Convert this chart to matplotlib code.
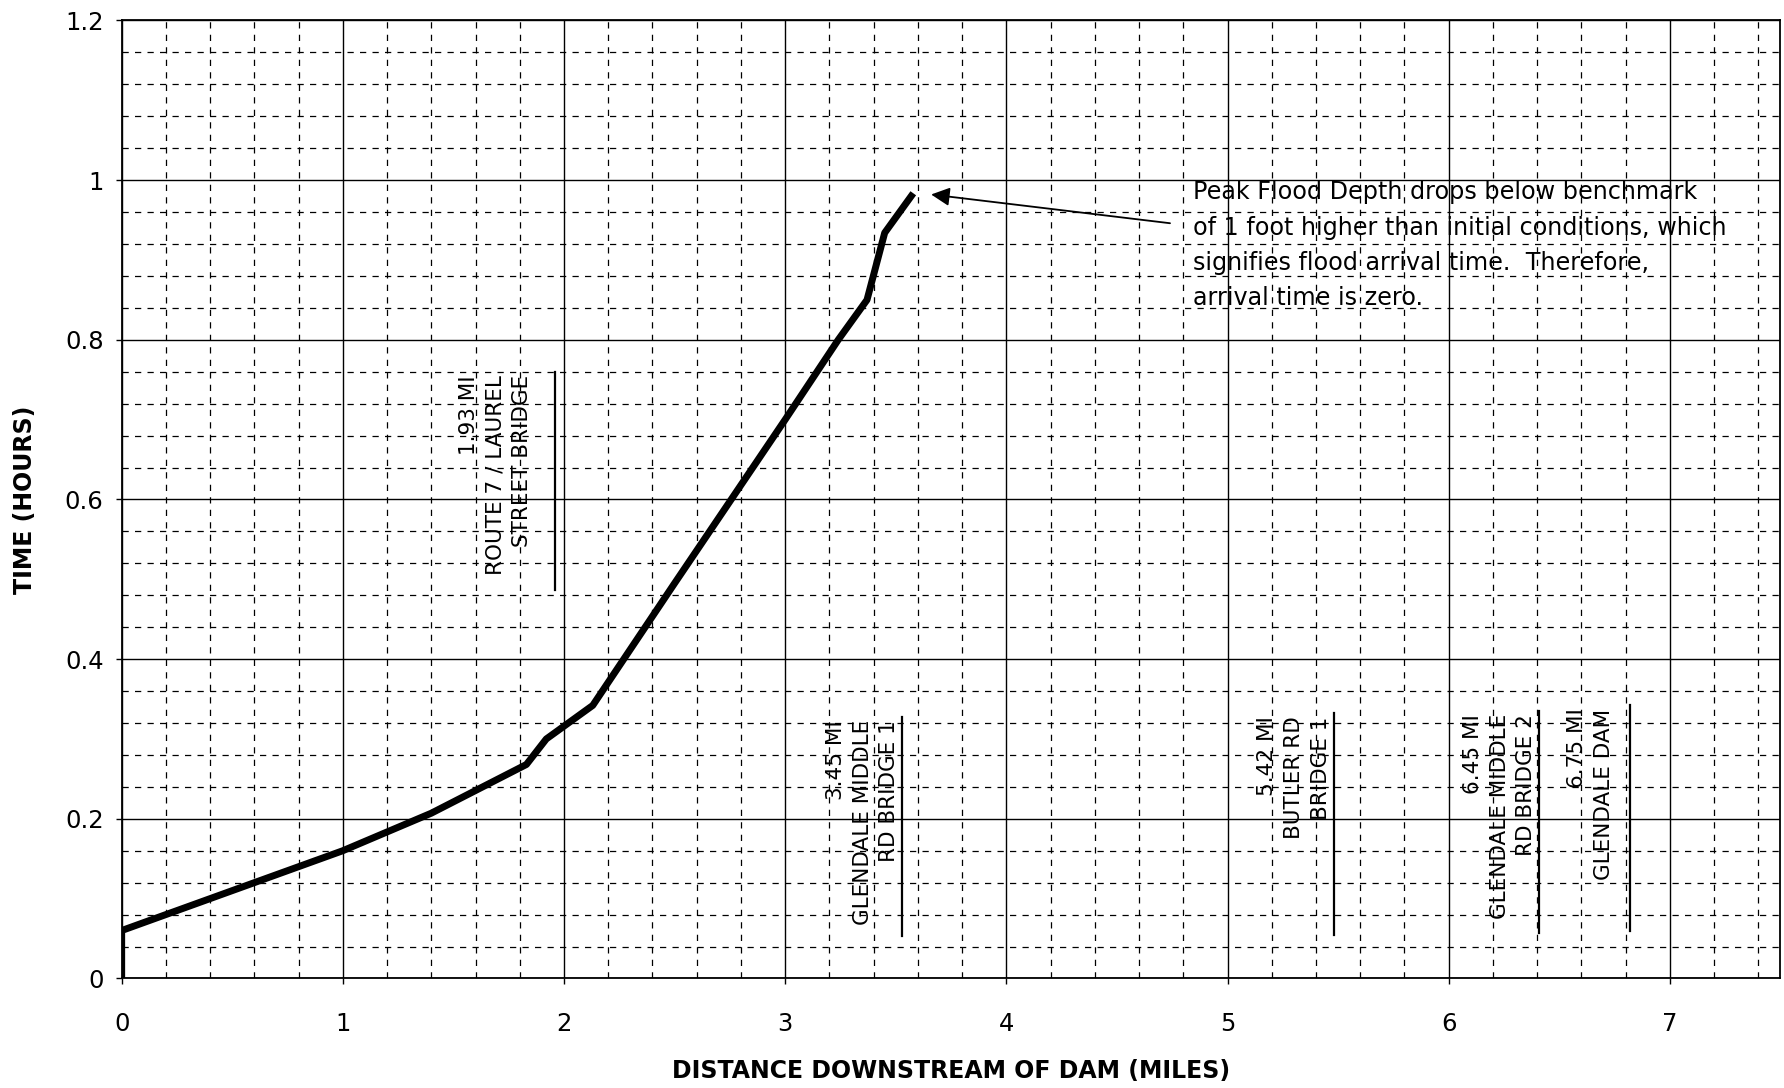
"""
Flood arrival time vs. distance downstream of dam.
"""

# -----------------------------------------------------------------------------
# imports

import matplotlib
matplotlib.use("Agg")
import matplotlib.pyplot as plt
from matplotlib.ticker import MultipleLocator

# -----------------------------------------------------------------------------
# data

distance_mi = [0.0, 0.0, 0.4, 1.0, 1.4, 1.83, 1.92, 2.13, 2.5, 3.0, 3.24, 3.37, 3.45, 3.57]
time_hr = [0.0, 0.06, 0.10, 0.16, 0.207, 0.268, 0.30, 0.342, 0.495, 0.70, 0.80, 0.85, 0.934, 0.98]

landmark_labels = [
    "1.93 MI\nROUTE 7 / LAUREL\nSTREET BRIDGE",
    "3.45 MI\nGLENDALE MIDDLE\nRD BRIDGE 1",
    "5.42 MI\nBUTLER RD\nBRIDGE 1",
    "6.45 MI\nGLENDALE MIDDLE\nRD BRIDGE 2",
    "6.75 MI\nGLENDALE DAM",
]
landmark_x = [1.96, 3.53, 5.48, 6.41, 6.82]
landmark_bottom = [0.486, 0.053, 0.054, 0.057, 0.06]
landmark_top = [0.76, 0.328, 0.332, 0.335, 0.342]

note_text = ("Peak Flood Depth drops below benchmark\n"
             "of 1 foot higher than initial conditions, which\n"
             "signifies flood arrival time.  Therefore,\n"
             "arrival time is zero.")
note_tip = (3.66, 0.982)
note_tail = (4.74, 0.946)

x_ticks = [0, 1, 2, 3, 4, 5, 6, 7]
y_ticks = [0, 0.2, 0.4, 0.6, 0.8, 1.0, 1.2]
y_tick_labels = ["0", "0.2", "0.4", "0.6", "0.8", "1", "1.2"]

# -----------------------------------------------------------------------------

fig = plt.figure(figsize=(17.84, 10.88), dpi=100)
ax = fig.add_axes([0.0682, 0.1007, 0.9298, 0.8805])

ax.set_xlim(0, 7.5)
ax.set_ylim(0, 1.2)

# paper-style grid: solid majors, dashed minors
ax.xaxis.set_minor_locator(MultipleLocator(0.2))
ax.yaxis.set_minor_locator(MultipleLocator(0.04))
ax.grid(which="major", color="black", linewidth=1.0)
ax.grid(which="minor", color="black", linewidth=0.9, linestyle=(0, (5, 5)))
ax.set_axisbelow(True)

ax.set_xticks(x_ticks)
ax.set_yticks(y_ticks)
ax.set_yticklabels(y_tick_labels)
ax.tick_params(which="major", direction="out", length=4, width=1,
               labelsize=17.5)
ax.tick_params(axis="x", pad=20)
ax.tick_params(axis="y", pad=9)
ax.tick_params(which="minor", length=0)
for spine in ax.spines.values():
    spine.set_linewidth(1.3)

# arrival time curve
ax.plot(distance_mi, time_hr, color="black", linewidth=5,
        solid_joinstyle="round", zorder=5)

# landmark labels with marker lines
for i, label in enumerate(landmark_labels):
    gap = 0.27 if i == 0 else 0.18
    ax.text(landmark_x[i] - gap, landmark_top[i] - 0.004, label,
            rotation=90, ha="center", va="top", multialignment="right",
            fontsize=15.5, linespacing=1.42, zorder=6)
    ax.plot([landmark_x[i], landmark_x[i]],
            [landmark_bottom[i], landmark_top[i]],
            color="black", linewidth=1.6, zorder=6)

# note and arrow
ax.text(4.843, 1.0, note_text, ha="left", va="top", fontsize=17.2,
        linespacing=1.6, zorder=6)
ax.annotate("", xy=note_tip, xytext=note_tail,
            arrowprops=dict(arrowstyle="-|>", color="black", lw=1.3,
                            mutation_scale=28, shrinkA=0, shrinkB=0),
            zorder=6)

ax.set_xlabel("DISTANCE DOWNSTREAM OF DAM (MILES)", fontsize=17,
              fontweight="bold", labelpad=17)
ax.set_ylabel("TIME (HOURS)", fontsize=17, fontweight="bold", labelpad=20)

fig.savefig("out.png", dpi=100)
